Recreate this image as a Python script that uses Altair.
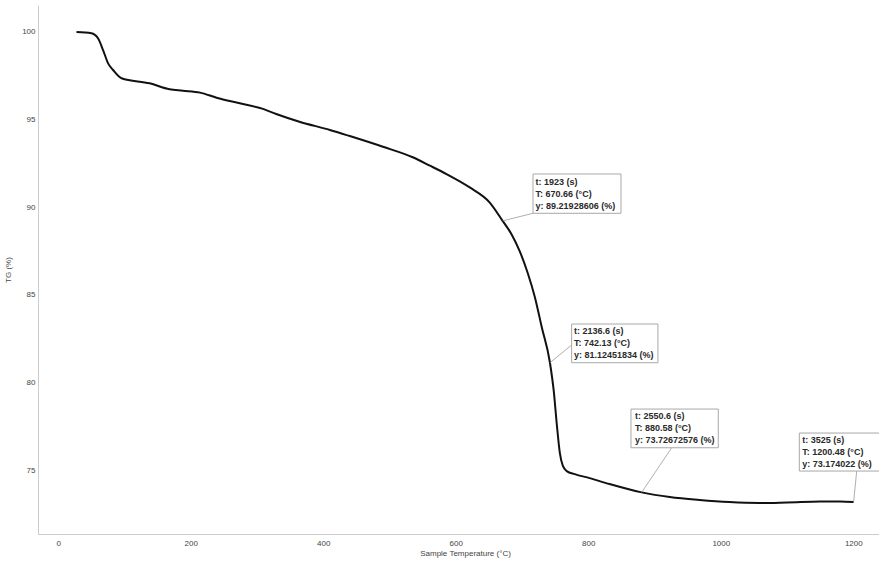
import altair as alt
import pandas as pd

# TG curve: sample temperature (°C) vs mass (%)
temp_c = [27.5, 50, 60, 67.6, 75.2, 82.7, 95.4, 138, 168, 188, 214, 239, 274, 309,
          329, 364, 410, 440, 490, 535, 561, 586, 621, 651, 670.66, 684.5, 696.6,
          708.7, 719.2, 729.8, 742.13, 747.9, 752.5, 757, 761.5, 767.5, 779.6, 802,
          832, 880.58, 923, 968, 1013, 1059, 1100, 1150, 1180, 1200.48]
tg_pct = [100.0, 99.93, 99.64, 98.97, 98.21, 97.83, 97.36, 97.07, 96.73, 96.65,
          96.54, 96.25, 95.93, 95.61, 95.32, 94.88, 94.41, 94.06, 93.45, 92.85,
          92.37, 91.89, 91.13, 90.28, 89.21928606, 88.43, 87.48, 86.23, 84.89, 83.15,
          81.12451834, 79.5, 77.6, 76.0, 75.25, 74.94, 74.77, 74.54, 74.2,
          73.72672576, 73.46, 73.29, 73.17, 73.12, 73.15, 73.2, 73.21, 73.174022]

# Marked points
mark_time_s = [1923, 2136.6, 2550.6, 3525]
mark_temp_c = [670.66, 742.13, 880.58, 1200.48]
mark_tg_pct = [89.21928606, 81.12451834, 73.72672576, 73.174022]

x_ticks = [0, 200, 400, 600, 800, 1000, 1200]
y_ticks = [75, 80, 85, 90, 95, 100]

# Callout box geometry in pixels relative to each marked point:
# (box left, box right, box top, box bottom, leader end x, leader end y, text dx, text dy)
callout_layout = [
    (30.4, 118.4, -46.9, -7.6, 30.4, -7.6, 33, -39.3),
    (21.7, 108.0, -38.7, 0.0, 21.7, -17.7, 24, -31.4),
    (-10.7, 76.6, -83.3, -44.6, 30.0, -44.6, -6.7, -76.0),
    (-54.3, 28.4, -69.0, -31.0, 3.1, -31.0, -51.3, -62.0),
]

curve = pd.DataFrame({"T": temp_c, "TG": tg_pct})

x_scale = alt.Scale(domain=[-30.6, 1238.8], nice=False, zero=False)
y_scale = alt.Scale(domain=[71.35, 101.54], nice=False, zero=False)

x_axis = alt.Axis(values=x_ticks, format="d", title="Sample Temperature (°C)",
                  grid=False, ticks=False, labelPadding=5, titlePadding=2,
                  domainColor="#cccccc", labelColor="#444444", titleColor="#444444",
                  labelFontSize=8, titleFontSize=8, titleFontWeight="normal",
                  labelFont="Liberation Sans", titleFont="Liberation Sans",
                  titleX=427)
y_axis = alt.Axis(values=y_ticks, format="d", title="TG (%)", grid=False, ticks=False,
                  labelPadding=3, titlePadding=9,
                  domainColor="#cccccc", labelColor="#444444", titleColor="#444444",
                  labelFontSize=8, titleFontSize=8, titleFontWeight="normal",
                  labelFont="Liberation Sans", titleFont="Liberation Sans")

line = alt.Chart(curve).mark_line(color="#111111", strokeWidth=2,
                                  interpolate="monotone").encode(
    x=alt.X("T:Q", scale=x_scale, axis=x_axis),
    y=alt.Y("TG:Q", scale=y_scale, axis=y_axis),
)

layers = [line]
for i, (bl, br, bt, bb, lx, ly, tdx, tdy) in enumerate(callout_layout):
    label = "\n".join([
        f"t: {mark_time_s[i]} (s)",
        f"T: {mark_temp_c[i]} (°C)",
        f"y: {mark_tg_pct[i]} (%)",
    ])
    pt = pd.DataFrame({"T": [mark_temp_c[i]], "TG": [mark_tg_pct[i]], "label": [label]})
    base = alt.Chart(pt)
    leader = base.mark_rule(color="#9a9a9a", strokeWidth=0.8,
                            x2Offset=lx, y2Offset=ly).encode(
        x=alt.X("T:Q", scale=x_scale), x2="T:Q",
        y=alt.Y("TG:Q", scale=y_scale), y2="TG:Q",
    )
    box = base.mark_rect(fill="white", stroke="#a8a8a8", strokeWidth=1,
                         xOffset=bl, x2Offset=br, yOffset=bt, y2Offset=bb).encode(
        x=alt.X("T:Q", scale=x_scale), x2="T:Q",
        y=alt.Y("TG:Q", scale=y_scale), y2="TG:Q",
    )
    text = base.mark_text(align="left", baseline="middle", dx=tdx, dy=tdy,
                          lineBreak="\n", lineHeight=12, fontSize=9,
                          fontWeight="bold", font="Liberation Sans",
                          color="#2a2a2a").encode(
        x=alt.X("T:Q", scale=x_scale),
        y=alt.Y("TG:Q", scale=y_scale),
        text="label:N",
    )
    layers += [leader, box, text]

chart = alt.layer(*layers).properties(
    width=841, height=529,
    autosize=alt.AutoSizeParams(type="none"),
    padding={"left": 38, "top": 5, "right": 0, "bottom": 28},
    background="white",
).configure_view(stroke=None)

chart.save("out.html", embed_options={"renderer": "svg", "actions": False})
